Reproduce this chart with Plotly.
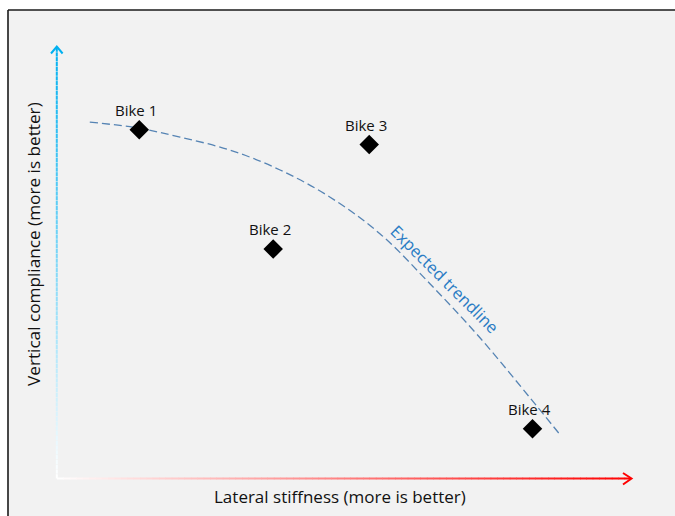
import plotly.graph_objects as go

# ---- data ----
bike_names = ["Bike 1", "Bike 2", "Bike 3", "Bike 4"]
stiffness = [1.43, 3.76, 5.43, 8.27]
compliance = [8.06, 5.30, 7.72, 1.14]

trend_x = [0.57, 1.41, 2.14, 3.01, 3.88, 4.75, 5.62, 6.49, 7.36, 8.23, 8.75]
trend_y = [8.24, 8.10, 7.89, 7.59, 7.13, 6.50, 5.65, 4.49, 3.24, 1.85, 1.00]

trend_label = "Expected trendline"
trend_label_pos = (6.74, 4.62)
x_title = "Lateral stiffness (more is better)"
y_title = "Vertical compliance (more is better)"

W, H = 675, 516
ML, MR, MT, MB = 57, 43, 46, 38
PW, PH = W - ML - MR, H - MT - MB


def px(xp):
    return (xp - ML) / PW


def py(yp):
    return (H - MB - yp) / PH


FONT = "Open Sans"

fig = go.Figure()

fig.add_trace(go.Scatter(
    x=trend_x, y=trend_y, mode="lines", line_shape="spline",
    line=dict(color="#5684b4", width=1.3, dash="8px,4px"),
    hoverinfo="skip", showlegend=False))

fig.add_trace(go.Scatter(
    x=stiffness, y=compliance, mode="markers",
    marker=dict(symbol="diamond", size=15, color="black"),
    text=bike_names, showlegend=False))

annotations = []
for n, xv, yv in zip(bike_names, stiffness, compliance):
    annotations.append(dict(x=xv, y=yv, xref="x", yref="y", text=n,
                            showarrow=False, yshift=20, xshift=-3.5,
                            xanchor="center", yanchor="middle",
                            font=dict(family=FONT, size=15, color="#111111")))

annotations.append(dict(x=trend_label_pos[0], y=trend_label_pos[1], xref="x", yref="y",
                        text=trend_label, showarrow=False, textangle=45,
                        xanchor="center", yanchor="middle",
                        font=dict(family=FONT, size=16.5, color="#2a7cc4")))

annotations.append(dict(x=px(340), y=py(496), xref="paper", yref="paper",
                        text=x_title, showarrow=False,
                        xanchor="center", yanchor="middle",
                        font=dict(family=FONT, size=17, color="#111111")))
annotations.append(dict(x=px(33.5), y=py(244.5), xref="paper", yref="paper",
                        text=y_title, showarrow=False, textangle=-90,
                        xanchor="center", yanchor="middle",
                        font=dict(family=FONT, size=17.2, color="#111111")))

shapes = []
# outside white strips and the black frame
shapes.append(dict(type="rect", xref="paper", yref="paper", x0=-0.3, x1=px(8), y0=-0.3, y1=1.4,
                   fillcolor="white", line=dict(width=0), layer="below"))
shapes.append(dict(type="rect", xref="paper", yref="paper", x0=-0.3, x1=1.3, y0=py(10), y1=1.4,
                   fillcolor="white", line=dict(width=0), layer="below"))
shapes.append(dict(type="line", xref="paper", yref="paper", x0=px(8), x1=px(8), y0=-0.3, y1=py(10),
                   line=dict(color="#1a1a1a", width=1.6)))
shapes.append(dict(type="line", xref="paper", yref="paper", x0=px(8), x1=1.3, y0=py(10), y1=py(10),
                   line=dict(color="#1a1a1a", width=1.6)))


def mix(c, t):
    r, g, b = c
    return "rgb(%d,%d,%d)" % (round(255 + (r - 255) * t), round(255 + (g - 255) * t), round(255 + (b - 255) * t))


N = 90
blue = (0, 176, 240)
red = (255, 0, 0)
y0p, y1p = 478.5, 47
x0p, x1p = 57, 631
for i in range(N):
    t0, t1 = i / N, (i + 1) / N
    tm = (t0 + t1) / 2
    shapes.append(dict(type="line", xref="paper", yref="paper",
                       x0=px(56.8), x1=px(56.8),
                       y0=py(y0p + (y1p - y0p) * t0), y1=py(y0p + (y1p - y0p) * t1 + (0.5 if i < N - 1 else 0)),
                       line=dict(color=mix(blue, tm), width=2)))
    shapes.append(dict(type="line", xref="paper", yref="paper",
                       x0=px(x0p + (x1p - x0p) * t0), x1=px(x0p + (x1p - x0p) * t1 + (0.5 if i < N - 1 else 0)),
                       y0=py(478.5), y1=py(478.5),
                       line=dict(color=mix(red, tm), width=2)))

# arrow heads
shapes.append(dict(type="path", xref="paper", yref="paper",
                   path="M %f,%f L %f,%f L %f,%f" % (px(51), py(53.5), px(56.8), py(46.5), px(62.6), py(53.5)),
                   line=dict(color="rgb(0,176,240)", width=2)))
shapes.append(dict(type="path", xref="paper", yref="paper",
                   path="M %f,%f L %f,%f L %f,%f" % (px(623), py(473), px(631.5), py(478.5), px(623), py(484.5)),
                   line=dict(color="rgb(255,0,0)", width=2)))

fig.update_layout(
    width=W, height=H,
    margin=dict(l=ML, r=MR, t=MT, b=MB),
    paper_bgcolor="#f2f2f2", plot_bgcolor="#f2f2f2",
    xaxis=dict(range=[0, 10], visible=False, fixedrange=True),
    yaxis=dict(range=[0, 10], visible=False, fixedrange=True),
    annotations=annotations, shapes=shapes,
    showlegend=False,
)

fig.write_html("out.html", config={"displayModeBar": False})
